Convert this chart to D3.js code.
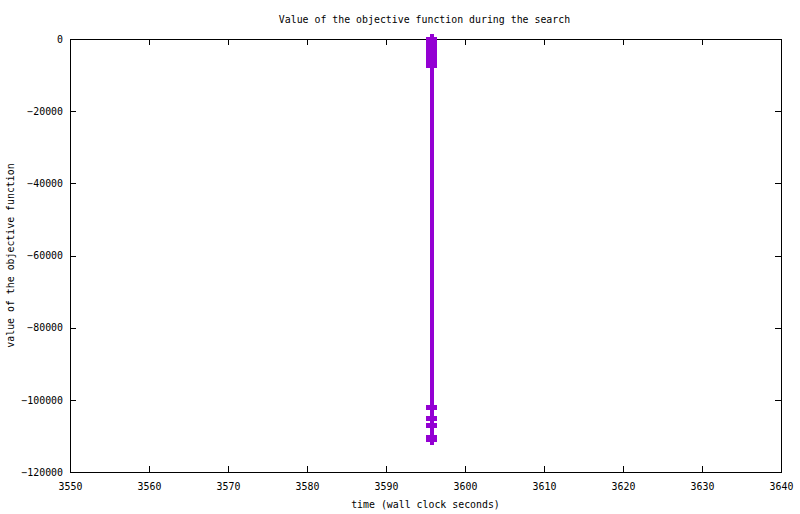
<!DOCTYPE html>
<html>
<head>
<meta charset="utf-8">
<script src="https://cdn.jsdelivr.net/npm/d3@7/dist/d3.min.js"></script>
<style>
  html, body { margin: 0; padding: 0; background: #fff; }
  svg text { font-family: "DejaVu Sans Mono", "Liberation Mono", monospace; font-size: 9.9px; fill: #000; }
</style>
</head>
<body>
<svg id="chart" width="800" height="514"></svg>
<script>
// ---- data ----
const times = [3595.76, 3595.76, 3595.76, 3595.76, 3595.76, 3595.76, 3595.76, 3595.76, 3595.76,
               3595.76, 3595.76, 3595.76, 3595.76, 3595.76, 3595.76, 3595.76];
const objective = [-111100, -110400, -107200, -105300, -102000, -7300, -6600, -5900, -5100,
                   -4300, -3500, -2700, -1900, -1200, -500, 0];
const xTicks = [3550, 3560, 3570, 3580, 3590, 3600, 3610, 3620, 3630, 3640];
const yTicks = [0, -20000, -40000, -60000, -80000, -100000, -120000];
const titleText = "Value of the objective function during the search";
const xLabel = "time (wall clock seconds)";
const yLabel = "value of the objective function";

// ---- layout ----
const svg = d3.select("#chart");
const L = 70, R = 781, T = 39, B = 472;
const x = d3.scaleLinear().domain([3550, 3640]).range([L, R]);
const y = d3.scaleLinear().domain([-120000, 0]).range([B, T]);
const color = "#9400D3";
const tickLen = 6;

const g = svg.append("g").attr("shape-rendering", "crispEdges");

// ticks (inward, mirrored)
const bottomAxis = d3.axisBottom(x).tickValues(xTicks).tickSizeInner(-tickLen).tickSizeOuter(0).tickPadding(11).tickFormat(d3.format("d"));
const topAxis = d3.axisTop(x).tickValues(xTicks).tickSizeInner(-tickLen).tickSizeOuter(0).tickFormat("");
const leftAxis = d3.axisLeft(y).tickValues(yTicks).tickSizeInner(-tickLen).tickSizeOuter(0).tickPadding(7).tickFormat(d3.format("d"));
const rightAxis = d3.axisRight(y).tickValues(yTicks).tickSizeInner(-tickLen).tickSizeOuter(0).tickFormat("");

function styleAxis(sel) {
  sel.select(".domain").remove();
  sel.selectAll("line").attr("stroke", "#000").attr("stroke-width", 1);
  sel.selectAll("text").attr("font-family", null).attr("font-size", null).attr("fill", "#000");
}
g.append("g").attr("transform", `translate(0,${B})`).call(bottomAxis).call(styleAxis);
g.append("g").attr("transform", `translate(0,${T})`).call(topAxis).call(styleAxis);
g.append("g").attr("transform", `translate(${L},0)`).call(leftAxis).call(styleAxis);
g.append("g").attr("transform", `translate(${R},0)`).call(rightAxis).call(styleAxis);

// frame
g.append("rect").attr("x", L).attr("y", T).attr("width", R - L).attr("height", B - T)
  .attr("fill", "none").attr("stroke", "#000").attr("stroke-width", 1);

// data line + plus markers
const pts = times.map((t, i) => [t, objective[i]]);
const line = d3.line().x(d => x(d[0])).y(d => y(d[1]));
svg.append("path").datum(pts).attr("d", line)
  .attr("fill", "none").attr("stroke", color).attr("stroke-width", 4).attr("shape-rendering", "crispEdges");

const arm = 5.5;
const mk = svg.append("g").attr("stroke", color).attr("stroke-width", 5).attr("shape-rendering", "crispEdges");
mk.selectAll("path.plus").data(pts).join("path").attr("class", "plus")
  .attr("d", d => {
    const px = x(d[0]), py = y(d[1]);
    return `M${px - arm},${py}H${px + arm}`;
  });
const mkv = svg.append("g").attr("stroke", color).attr("stroke-width", 4).attr("shape-rendering", "crispEdges");
mkv.selectAll("path.plusv").data(pts).join("path").attr("class", "plusv")
  .attr("d", d => {
    const px = x(d[0]), py = y(d[1]);
    return `M${px},${py - arm}V${py + arm}`;
  });

// texts
svg.append("text").attr("x", (L + R) / 2 - 1).attr("y", 23).attr("text-anchor", "middle").text(titleText);
svg.append("text").attr("x", (L + R) / 2).attr("y", 508).attr("text-anchor", "middle").text(xLabel);
svg.append("text").attr("transform", `translate(14,${(T + B) / 2}) rotate(-90)`).attr("text-anchor", "middle").text(yLabel);
</script>
</body>
</html>
